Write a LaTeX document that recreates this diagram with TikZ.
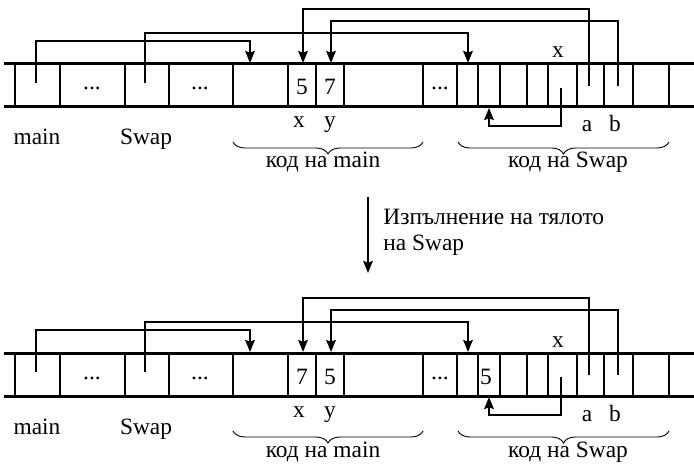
\documentclass[tikz,border=0pt]{standalone}
\usepackage{fontspec}
\setmainfont{Liberation Serif}
\usetikzlibrary{arrows.meta,decorations.pathreplacing}
\newcommand\drawtape[6]{%
 % #1 prefix, #2 y offset, #3 value in x, #4 value in y, #5 extra value, #6 (unused)
 \begin{scope}[shift={(0,#2)}]
  \draw[hline] (4,64) -- (694,64);
  \draw[hline] (4,107) -- (694,107);
  \foreach \xx in {15,60,125,169,233,288,316,344,423,478,500,527,548,577,604,633,669}
    \draw[vline] (\xx,64) -- (\xx,107);
  \draw[vthin] (457,64) -- (457,107);
  \node[txt] (#1d1) at (92,90) {...};
  \node[txt] (#1d2) at (200,90) {...};
  \node[txt] (#1d3) at (440,90) {...};
  \node[txt] (#1vx) at (302,95) {#3};
  \node[txt] (#1vy) at (330,95) {#4};
  \node[txt] (#1ve) at (486,95) {#5};
  \node[txt] (#1lx) at (299,128) {x};
  \node[txt] (#1ly) at (330,128) {y};
  \node[txt] (#1lmain) at (37,145) {main};
  \node[txt] (#1lswap) at (146,145) {Swap};
  \node[txt] (#1lxx) at (558,58) {x};
  \node[txt] (#1la) at (587,132) {a};
  \node[txt] (#1lb) at (615,132) {b};
  \draw[brc] (233,142) -- (423,142);
  \draw[brc] (458,142) -- (669,142);
  \node[txt] (#1cm) at (323,168) {код на main};
  \node[txt] (#1cs) at (568,168) {код на Swap};
  \coordinate (#1pmain) at (36,83);
  \coordinate (#1pswap) at (145,83);
  \coordinate (#1pa) at (589,86);
  \coordinate (#1pb) at (618,86);
  \coordinate (#1px) at (561,88);
  \coordinate (#1tmain) at (250,63);
  \coordinate (#1tswap) at (468,63);
  \coordinate (#1tx) at (303,63);
  \coordinate (#1ty) at (331,63);
  \coordinate (#1tc) at (489,108);
  \draw[arr] (#1pmain) -- ++(0,-42) -| (#1tmain);
  \draw[arr] (#1pswap) -- ++(0,-50) -| (#1tswap);
  \draw[arr] (#1pa) -- ++(0,-77) -| (#1tx);
  \draw[arr] (#1pb) -- ++(0,-65) -| (#1ty);
  \draw[arr] (#1px) -- ++(0,38) -| (#1tc);
 \end{scope}}
\begin{document}
\begin{tikzpicture}[x=0.5pt,y=-0.5pt,
  hline/.style={line width=1.5pt},
  vline/.style={line width=1pt},
  vthin/.style={line width=0.65pt},
  arr/.style={line width=0.9pt,-{Stealth[length=6pt,width=4.8pt,inset=0.8pt]}},
  brc/.style={line width=0.45pt,decorate,decoration={brace,mirror,amplitude=6pt}},
  txt/.style={anchor=base,inner sep=0pt,font=\fontsize{11.7}{14}\selectfont}]
 \fill[white] (0,0) rectangle (694,464);
 \useasboundingbox (0,0) rectangle (694,464);
 \drawtape{a}{0}{5}{7}{}{}
 \drawtape{b}{289}{7}{5}{5}{}
 \coordinate (ms) at (368,197);
 \coordinate (me) at (368,273);
 \draw[arr] (ms) -- (me);
 \node[txt,anchor=base west] (mt1) at (383,225) {Изпълнение на тялото};
 \node[txt,anchor=base west] (mt2) at (383,250) {на Swap};
\end{tikzpicture}
\end{document}
